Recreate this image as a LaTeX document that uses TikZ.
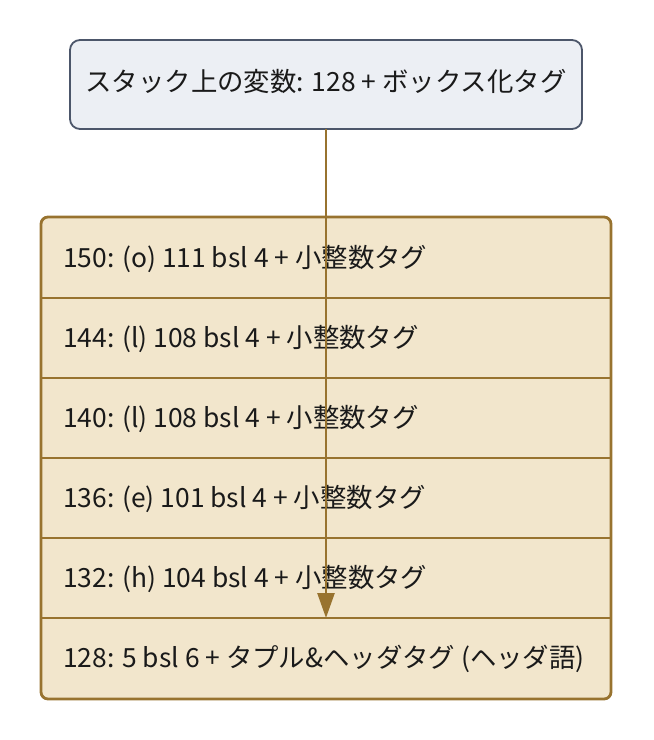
\documentclass[tikz,border=0pt]{standalone}
\usepackage{fontspec}
\setmainfont{Noto Sans CJK JP}
\usetikzlibrary{arrows.meta}
\definecolor{topfill}{HTML}{ECEFF4}
\definecolor{topline}{HTML}{4C566A}
\definecolor{stackfill}{HTML}{F2E6CC}
\definecolor{stackline}{HTML}{98732F}
\definecolor{txt}{HTML}{1A1A1A}
\tikzset{
  topbox/.style={draw=topline, fill=topfill, line width=1.8pt, rounded corners=10pt},
  stackbox/.style={draw=stackline, fill=stackfill, line width=2.8pt, rounded corners=7pt},
  sep/.style={draw=stackline, line width=1.8pt},
  rowtext/.style={anchor=west, font=\fontsize{26.4}{30}\selectfont, text=txt, inner sep=0pt},
  toptext/.style={font=\fontsize{26.4}{30}\selectfont, text=txt, inner sep=0pt},
  conn/.style={draw=stackline, line width=2.6pt, -{Triangle[length=25pt,width=17pt]}}
}
\begin{document}
\begin{tikzpicture}[x=1pt,y=-1pt]
\useasboundingbox (0,0) rectangle (654,740);
% top box
\path[topbox] (70,40) rectangle (582,129);
\node[toptext] (top) at (326,81) {スタック上の変数: 128 + ボックス化タグ};
\coordinate (topbot) at (326,129);
% stack
\path[stackbox] (41,217) rectangle (611,699);
\foreach \y in {298,378,458,538,618} {
  \draw[sep] (41,\y) -- (611,\y);
}
\node[rowtext] (r150) at (63,259) {150: (o) 111 bsl 4 + 小整数タグ};
\node[rowtext] (r144) at (63,339) {144: (l) 108 bsl 4 + 小整数タグ};
\node[rowtext] (r140) at (63,419) {140: (l) 108 bsl 4 + 小整数タグ};
\node[rowtext] (r136) at (63,499) {136: (e) 101 bsl 4 + 小整数タグ};
\node[rowtext] (r132) at (63,579) {132: (h) 104 bsl 4 + 小整数タグ};
\node[rowtext] (r128) at (63,659) {128: 5 bsl 6 + タプル\&ヘッダタグ (ヘッダ語)};
\coordinate (target) at (326,618);
% connector
\draw[conn] (topbot) -- (target);
\end{tikzpicture}
\end{document}
